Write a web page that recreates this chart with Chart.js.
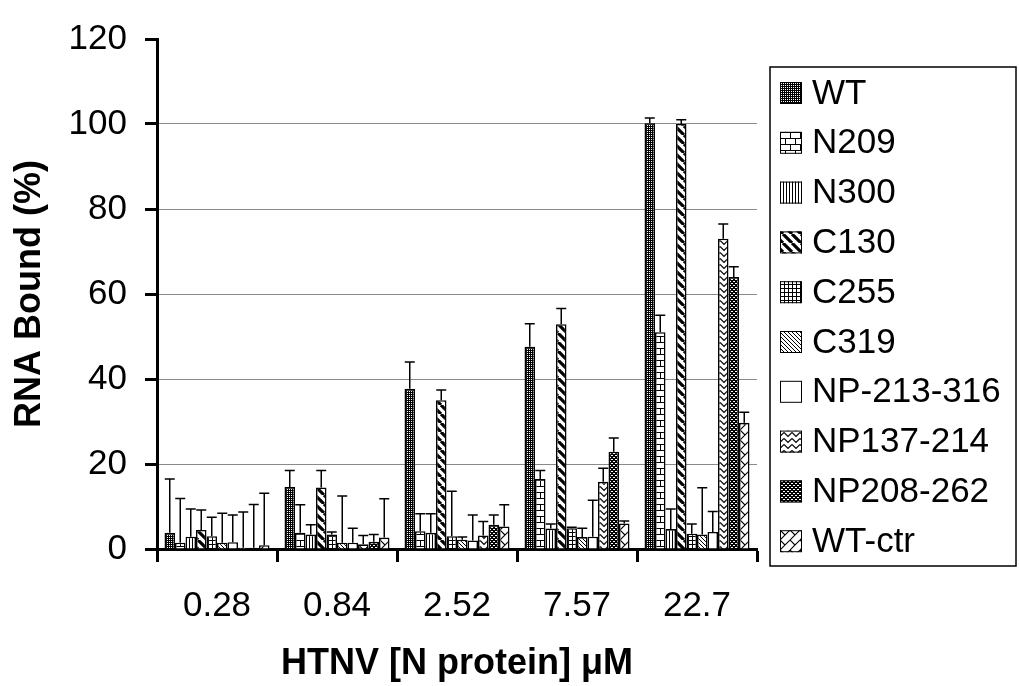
<!DOCTYPE html>
<html><head><meta charset="utf-8">
<script src="https://cdn.jsdelivr.net/npm/chart.js@4"></script>
<style>html,body{margin:0;padding:0;background:#fff;}</style>
</head><body>
<canvas id="c" width="1019" height="686"></canvas>
<script>
// ---- data ----
const categories = ['0.28', '0.84', '2.52', '7.57', '22.7'];
const seriesNames = ['WT', 'N209', 'N300', 'C130', 'C255', 'C319', 'NP-213-316', 'NP137-214', 'NP208-262', 'WT-ctr'];
const wtValues        = [3.8, 14.6, 37.7, 47.6, 100.2];
const wtErrors        = [12.7, 3.9, 6.3, 5.4, 1.2];
const n209Values      = [1.5, 3.8, 4.2, 16.5, 51.0];
const n209Errors      = [10.4, 6.6, 4.1, 2.0, 4.0];
const n300Values      = [2.9, 3.4, 3.8, 4.8, 4.7];
const n300Errors      = [6.5, 2.3, 4.5, 1.1, 4.7];
const c130Values      = [4.5, 14.5, 35.0, 52.9, 100.0];
const c130Errors      = [4.7, 4.0, 2.4, 3.7, 1.0];
const c255Values      = [3.0, 3.4, 3.0, 4.9, 3.6];
const c255Errors      = [4.5, 0.6, 10.6, 0.2, 2.3];
const c319Values      = [1.5, 1.5, 2.2, 2.8, 3.4];
const c319Errors      = [6.9, 11.0, 0.6, 2.1, 11.0];
const np213Values     = [1.6, 1.5, 2.0, 2.9, 4.0];
const np213Errors     = [6.4, 3.4, 6.0, 8.6, 4.8];
const np137Values     = [0.3, 1.1, 3.2, 15.8, 73.0];
const np137Errors     = [8.4, 2.1, 3.3, 3.2, 3.5];
const np208Values     = [0.3, 1.7, 5.7, 22.9, 64.0];
const np208Errors     = [10.2, 1.7, 2.3, 3.2, 2.4];
const wtCtrValues     = [0.9, 2.7, 5.3, 6.0, 29.7];
const wtCtrErrors     = [12.2, 9.1, 5.1, 0.6, 2.5];
const yTicks = [0, 20, 40, 60, 80, 100, 120];

const seriesValues = [wtValues, n209Values, n300Values, c130Values, c255Values, c319Values, np213Values, np137Values, np208Values, wtCtrValues];
const seriesErrors = [wtErrors, n209Errors, n300Errors, c130Errors, c255Errors, c319Errors, np213Errors, np137Errors, np208Errors, wtCtrErrors];

// ---- patterns ----
const canvas = document.getElementById('c');
const mainCtx = canvas.getContext('2d');
function makePattern(w, h, draw) {
  const c = document.createElement('canvas'); c.width = w; c.height = h;
  const g = c.getContext('2d');
  g.fillStyle = '#fff'; g.fillRect(0, 0, w, h);
  g.fillStyle = '#000'; g.strokeStyle = '#000';
  draw(g, w, h);
  return mainCtx.createPattern(c, 'repeat');
}
const patterns = [
  // WT: dark fine mesh
  makePattern(2, 2, g => { g.fillRect(0,0,2,2); g.fillStyle='#fff'; g.fillRect(1,1,1,1); }),
  // N209: bricks
  makePattern(10, 12, g => { g.fillRect(0,0,10,1); g.fillRect(0,6,10,1); g.fillRect(0,0,1,6); g.fillRect(5,6,1,6); }),
  // N300: vertical lines
  makePattern(3, 1, g => { g.fillRect(0,0,1,1); }),
  // C130: wide diagonal stripes
  makePattern(9, 9, g => { g.lineWidth = 3.2; g.beginPath(); for (const k of [-9,0,9]) { g.moveTo(k,0); g.lineTo(k+9,9); } g.stroke(); }),
  // C255: small grid
  makePattern(4, 4, g => { g.fillRect(0,0,4,1); g.fillRect(0,0,1,4); }),
  // C319: thin dense diagonals
  makePattern(4, 4, g => { for (let i=0;i<4;i++) g.fillRect(i,i,1,1); }),
  // NP-213-316: white
  makePattern(2, 2, g => {}),
  // NP137-214: zigzag
  makePattern(8, 6, g => { g.lineWidth = 1.2; g.beginPath(); g.moveTo(0,0.5); g.lineTo(4,4.5); g.lineTo(8,0.5); g.stroke(); }),
  // NP208-262: dark with white dots
  makePattern(4, 4, g => { g.fillRect(0,0,4,4); g.fillStyle='#fff'; g.fillRect(1,1,2,1); g.fillRect(3,3,1,1); g.fillRect(0,3,1,1); }),
  // WT-ctr: diagonal lattice
  makePattern(10, 10, g => { g.lineWidth = 1.1; g.beginPath(); for (const k of [-10,0,10]) { g.moveTo(k,10); g.lineTo(k+10,0); } g.moveTo(0,0); g.lineTo(5,5); g.stroke(); })
];

const FONT = "'Liberation Sans', Arial, sans-serif";

const datasets = seriesNames.map((name, i) => ({
  label: name,
  data: seriesValues[i],
  errors: seriesErrors[i],
  backgroundColor: patterns[i],
  borderColor: '#000',
  borderWidth: 1.6,
  barPercentage: 1.0,
  categoryPercentage: 0.875
}));

const errorBarsPlugin = {
  id: 'errorBars',
  afterDatasetsDraw(chart) {
    const ctx = chart.ctx; const ys = chart.scales.y;
    chart.data.datasets.forEach((ds, i) => {
      const meta = chart.getDatasetMeta(i);
      meta.data.forEach((bar, j) => {
        const top = ys.getPixelForValue(ds.data[j] + ds.errors[j]);
        ctx.save();
        ctx.strokeStyle = '#000'; ctx.lineWidth = 1.5;
        ctx.beginPath();
        ctx.moveTo(bar.x, bar.y); ctx.lineTo(bar.x, top);
        ctx.moveTo(bar.x - 5, top); ctx.lineTo(bar.x + 5, top);
        ctx.stroke();
        ctx.restore();
      });
    });
  }
};

const legendPlugin = {
  id: 'boxLegend',
  afterDraw(chart) {
    const ctx = chart.ctx;
    const left = 770, top = 67, right = 1016, bottom = 566;
    ctx.save();
    ctx.strokeStyle = '#000'; ctx.lineWidth = 1.5;
    ctx.strokeRect(left, top, right - left, bottom - top);
    ctx.font = '35px ' + FONT;
    ctx.textBaseline = 'middle'; ctx.textAlign = 'left';
    chart.data.datasets.forEach((ds, i) => {
      const cy = 93 + i * 49.8;
      ctx.fillStyle = ds.backgroundColor;
      ctx.fillRect(780, cy - 11, 22, 22);
      ctx.lineWidth = 1; ctx.strokeStyle = '#000';
      ctx.strokeRect(780.5, cy - 10.5, 21, 21);
      ctx.fillStyle = '#000';
      ctx.fillText(ds.label, 812, cy + 1);
    });
    ctx.restore();
  }
};

new Chart(canvas, {
  type: 'bar',
  data: { labels: categories, datasets },
  plugins: [errorBarsPlugin, legendPlugin],
  options: {
    responsive: false,
    animation: false,
    devicePixelRatio: 1,
    layout: { padding: { top: 29, right: 262, bottom: 0, left: 0 } },
    plugins: { legend: { display: false }, tooltip: { enabled: false } },
    scales: {
      x: {
        offset: true,
        grid: { offset: true, drawOnChartArea: false, drawTicks: true, tickLength: 13, tickColor: '#000', tickWidth: 3 },
        border: { display: true, color: '#000', width: 3 },
        ticks: { color: '#000', font: { family: FONT, size: 35 }, padding: 23, maxRotation: 0 },
        title: { display: true, text: 'HTNV [N protein] μM', color: '#000', font: { family: FONT, size: 36, weight: 'bold' }, padding: { top: 0, bottom: 0 } },
        afterFit(scale) { scale.height = 137; }
      },
      y: {
        min: 0, max: 120,
        afterBuildTicks(scale) { scale.ticks = yTicks.map(v => ({ value: v })); },
        grid: {
          color: c => (c.tick && (c.tick.value === 0 || c.tick.value === 120)) ? 'rgba(0,0,0,0)' : '#8a8a8a',
          lineWidth: 1,
          tickColor: '#000', tickWidth: 3, tickLength: 12, drawTicks: true
        },
        border: { display: true, color: '#000', width: 3 },
        ticks: { color: '#000', font: { family: FONT, size: 35 }, padding: 18 },
        title: { display: true, text: 'RNA Bound (%)', color: '#000', font: { family: FONT, size: 36, weight: 'bold' }, padding: { top: 8, bottom: 0 } },
        afterFit(scale) { scale.width = 157; }
      }
    }
  }
});
</script>
</body></html>
